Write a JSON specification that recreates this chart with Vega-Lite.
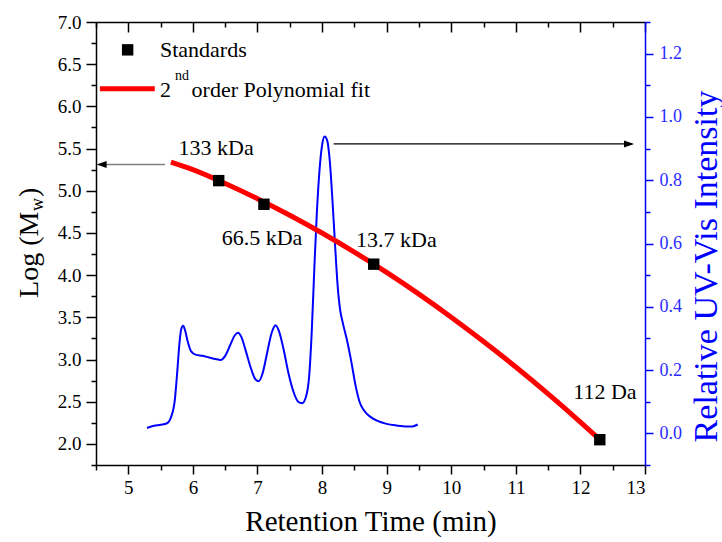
{
  "$schema": "https://vega.github.io/schema/vega-lite/v6.json",
  "width": 549,
  "height": 443,
  "autosize": "none",
  "padding": {"left": 96, "top": 22, "right": 77, "bottom": 77},
  "background": "white",
  "config": {
    "view": {"stroke": null},
    "font": "Liberation Serif",
    "axis": {"labelFont": "Liberation Serif", "titleFont": "Liberation Serif", "grid": false, "titleFontWeight": "normal", "domainWidth": 1.5, "tickWidth": 1.5}
  },
  "datasets": {
    "uv": [
      {"t": 5.29, "i": 0.017}, {"t": 5.40, "i": 0.024}, {"t": 5.50, "i": 0.027}, {"t": 5.60, "i": 0.032},
      {"t": 5.66, "i": 0.050}, {"t": 5.72, "i": 0.105}, {"t": 5.76, "i": 0.200}, {"t": 5.79, "i": 0.280},
      {"t": 5.82, "i": 0.330}, {"t": 5.85, "i": 0.340}, {"t": 5.88, "i": 0.325}, {"t": 5.92, "i": 0.290},
      {"t": 5.97, "i": 0.260}, {"t": 6.05, "i": 0.248}, {"t": 6.15, "i": 0.245}, {"t": 6.25, "i": 0.240},
      {"t": 6.35, "i": 0.235}, {"t": 6.43, "i": 0.232}, {"t": 6.50, "i": 0.245}, {"t": 6.58, "i": 0.280},
      {"t": 6.65, "i": 0.310}, {"t": 6.70, "i": 0.318}, {"t": 6.75, "i": 0.305}, {"t": 6.82, "i": 0.260},
      {"t": 6.90, "i": 0.205}, {"t": 6.97, "i": 0.170}, {"t": 7.02, "i": 0.165}, {"t": 7.08, "i": 0.190},
      {"t": 7.15, "i": 0.255}, {"t": 7.22, "i": 0.318}, {"t": 7.28, "i": 0.342}, {"t": 7.33, "i": 0.325},
      {"t": 7.40, "i": 0.270}, {"t": 7.48, "i": 0.190}, {"t": 7.56, "i": 0.130}, {"t": 7.63, "i": 0.100},
      {"t": 7.69, "i": 0.095}, {"t": 7.75, "i": 0.115}, {"t": 7.80, "i": 0.180}, {"t": 7.84, "i": 0.320},
      {"t": 7.88, "i": 0.520}, {"t": 7.92, "i": 0.700}, {"t": 7.96, "i": 0.830}, {"t": 8.00, "i": 0.910},
      {"t": 8.04, "i": 0.938}, {"t": 8.08, "i": 0.925}, {"t": 8.12, "i": 0.860}, {"t": 8.16, "i": 0.740},
      {"t": 8.20, "i": 0.600}, {"t": 8.24, "i": 0.470}, {"t": 8.28, "i": 0.390}, {"t": 8.32, "i": 0.350},
      {"t": 8.38, "i": 0.300}, {"t": 8.45, "i": 0.230}, {"t": 8.52, "i": 0.150}, {"t": 8.58, "i": 0.100},
      {"t": 8.65, "i": 0.072}, {"t": 8.75, "i": 0.052}, {"t": 8.85, "i": 0.040}, {"t": 9.00, "i": 0.030},
      {"t": 9.15, "i": 0.025}, {"t": 9.30, "i": 0.022}, {"t": 9.40, "i": 0.022}, {"t": 9.48, "i": 0.028}
    ],
    "fit": [
      {"x": 5.66, "y": 5.34}, {"x": 6.0, "y": 5.25}, {"x": 6.5, "y": 5.086}, {"x": 7.0, "y": 4.906},
      {"x": 7.5, "y": 4.71}, {"x": 8.0, "y": 4.499}, {"x": 8.5, "y": 4.273}, {"x": 9.0, "y": 4.032},
      {"x": 9.5, "y": 3.775}, {"x": 10.0, "y": 3.502}, {"x": 10.5, "y": 3.214}, {"x": 11.0, "y": 2.911},
      {"x": 11.5, "y": 2.592}, {"x": 12.0, "y": 2.258}, {"x": 12.3, "y": 2.05}
    ],
    "standards": [
      {"x": 6.4, "y": 5.12}, {"x": 7.1, "y": 4.84}, {"x": 8.8, "y": 4.13}, {"x": 12.3, "y": 2.05}
    ],
    "labels": [
      {"x": 6.36, "y": 5.51, "text": "133 kDa"},
      {"x": 7.07, "y": 4.435, "text": "66.5 kDa"},
      {"x": 9.15, "y": 4.417, "text": "13.7 kDa"},
      {"x": 12.38, "y": 2.616, "text": "112 Da"}
    ],
    "arrowLeft": [{"x": 5.57, "x2": 4.55, "y": 5.31}],
    "arrowRight": [{"x": 8.18, "x2": 12.8, "y": 5.555}],
    "headLeft": [{"x": 4.51, "y": 5.31}],
    "headRight": [{"x": 12.83, "y": 5.555}],
    "legendSymbol": [{"x": 4.99, "y": 6.67}],
    "legendLine": [{"x": 4.56, "x2": 5.41, "y": 6.21}],
    "legendText": [
      {"x": 5.49, "y": 6.67, "text": "Standards"}
    ],
    "legendFitMain": [
      {"x": 5.49, "y": 6.115, "text": "2"},
      {"x": 5.98, "y": 6.115, "text": "order Polynomial fit"}
    ],
    "legendFitSup": [{"x": 5.725, "y": 6.31, "text": "nd"}],
    "ytitleMain": [
      {"x": 3.601, "y": 3.73, "text": "Log (M"},
      {"x": 3.601, "y": 4.927, "text": ")"}
    ],
    "ytitleSub": [{"x": 3.678, "y": 4.761, "text": "w"}]
  },
  "layer": [
    {
      "data": {"name": "uv"},
      "mark": {"type": "line", "color": "#0000ff", "strokeWidth": 2, "interpolate": "monotone"},
      "encoding": {
        "x": {
          "field": "t", "type": "quantitative",
          "scale": {"domain": [4.5, 13], "nice": false, "zero": false},
          "axis": {
            "orient": "top", "title": null, "labels": false,
            "values": [4.5, 5, 5.5, 6, 6.5, 7, 7.5, 8, 8.5, 9, 9.5, 10, 10.5, 11, 11.5, 12, 12.5, 13],
            "tickSize": {"condition": {"test": "datum.value % 1 === 0", "value": -10}, "value": -5},
            "domainColor": "black", "tickColor": "black"
          }
        },
        "y": {
          "field": "i", "type": "quantitative",
          "scale": {"domain": [-0.1, 1.3], "nice": false, "zero": false},
          "axis": {
            "orient": "right",
            "values": [-0.1, 0, 0.1, 0.2, 0.3, 0.4, 0.5, 0.6, 0.7, 0.8, 0.9, 1.0, 1.1, 1.2, 1.3],
            "format": ".1f",
            "labelExpr": "abs(round(datum.value*10)) % 2 === 0 ? datum.label : ''",
            "tickSize": {"condition": {"test": "abs(round(datum.value*10)) % 2 === 0", "value": 8}, "value": 5},
            "labelPadding": 6,
            "labelFontSize": 18, "labelColor": "#2b2bff",
            "domainColor": "#0000ff", "tickColor": "#0000ff",
            "title": "Relative UV-Vis Intensity", "titleColor": "#0000ff", "titleFontSize": 34,
            "titleAngle": 270, "titleAlign": "center", "titleBaseline": "middle",
            "titleX": 61, "titleY": 244
          }
        }
      }
    },
    {
      "encoding": {
        "x": {
          "field": "x", "type": "quantitative",
          "scale": {"domain": [4.5, 13], "nice": false, "zero": false},
          "axis": {
            "orient": "bottom",
            "values": [4.5, 5, 5.5, 6, 6.5, 7, 7.5, 8, 8.5, 9, 9.5, 10, 10.5, 11, 11.5, 12, 12.5, 13],
            "format": ".0f",
            "labelExpr": "datum.value % 1 === 0 ? datum.label : ''",
            "tickSize": {"condition": {"test": "datum.value % 1 === 0", "value": 9}, "value": 5},
            "labelPadding": 4, "labelFontSize": 19, "labelColor": "black",
            "domainColor": "black", "tickColor": "black",
            "title": "Retention Time (min)", "titleFontSize": 29, "titleColor": "black", "titlePadding": 10
          }
        },
        "y": {
          "field": "y", "type": "quantitative",
          "scale": {"domain": [1.75, 7.0], "nice": false, "zero": false},
          "axis": {
            "orient": "left",
            "values": [1.75, 2, 2.25, 2.5, 2.75, 3, 3.25, 3.5, 3.75, 4, 4.25, 4.5, 4.75, 5, 5.25, 5.5, 5.75, 6, 6.25, 6.5, 6.75, 7],
            "format": ".1f",
            "labelExpr": "(datum.value * 2) % 1 === 0 ? datum.label : ''",
            "tickSize": {"condition": {"test": "(datum.value * 2) % 1 === 0", "value": 10}, "value": 5},
            "labelPadding": 5, "labelFontSize": 19, "labelColor": "black",
            "domainColor": "black", "tickColor": "black",
            "title": null
          }
        }
      },
      "layer": [
        {"data": {"name": "fit"}, "mark": {"type": "line", "color": "#ff0000", "strokeWidth": 5, "interpolate": "monotone"}},
        {"data": {"name": "standards"}, "mark": {"type": "point", "shape": "square", "filled": true, "color": "black", "size": 130, "opacity": 1}},
        {"data": {"name": "labels"}, "mark": {"type": "text", "fontSize": 22, "align": "center", "baseline": "middle", "color": "black", "font": "Liberation Serif"}, "encoding": {"text": {"field": "text"}}},
        {"data": {"name": "arrowLeft"}, "mark": {"type": "rule", "color": "#808080", "strokeWidth": 1.5}, "encoding": {"x2": {"field": "x2"}}},
        {"data": {"name": "arrowRight"}, "mark": {"type": "rule", "color": "black", "strokeWidth": 1.2}, "encoding": {"x2": {"field": "x2"}}},
        {"data": {"name": "headLeft"}, "mark": {"type": "point", "shape": "M0,0L2,-0.7L2,0.7Z", "filled": true, "color": "black", "size": 100, "opacity": 1}},
        {"data": {"name": "headRight"}, "mark": {"type": "point", "shape": "M0,0L-2,-0.7L-2,0.7Z", "filled": true, "color": "black", "size": 100, "opacity": 1}},
        {"data": {"name": "legendSymbol"}, "mark": {"type": "point", "shape": "square", "filled": true, "color": "black", "size": 130, "opacity": 1}},
        {"data": {"name": "legendLine"}, "mark": {"type": "rule", "color": "#ff0000", "strokeWidth": 5}, "encoding": {"x2": {"field": "x2"}}},
        {"data": {"name": "legendText"}, "mark": {"type": "text", "fontSize": 22, "align": "left", "baseline": "middle", "color": "black", "font": "Liberation Serif"}, "encoding": {"text": {"field": "text"}}},
        {"data": {"name": "legendFitMain"}, "mark": {"type": "text", "fontSize": 22, "align": "left", "baseline": "alphabetic", "color": "black", "font": "Liberation Serif"}, "encoding": {"text": {"field": "text"}}},
        {"data": {"name": "legendFitSup"}, "mark": {"type": "text", "fontSize": 14, "align": "left", "baseline": "alphabetic", "color": "black", "font": "Liberation Serif"}, "encoding": {"text": {"field": "text"}}},
        {"data": {"name": "ytitleMain"}, "mark": {"type": "text", "fontSize": 28, "angle": 270, "align": "left", "baseline": "alphabetic", "color": "black", "font": "Liberation Serif"}, "encoding": {"text": {"field": "text"}}},
        {"data": {"name": "ytitleSub"}, "mark": {"type": "text", "fontSize": 18, "angle": 270, "align": "left", "baseline": "alphabetic", "color": "black", "font": "Liberation Serif"}, "encoding": {"text": {"field": "text"}}}
      ]
    }
  ],
  "resolve": {
    "scale": {"y": "independent"},
    "axis": {"x": "independent", "y": "independent"}
  }
}
